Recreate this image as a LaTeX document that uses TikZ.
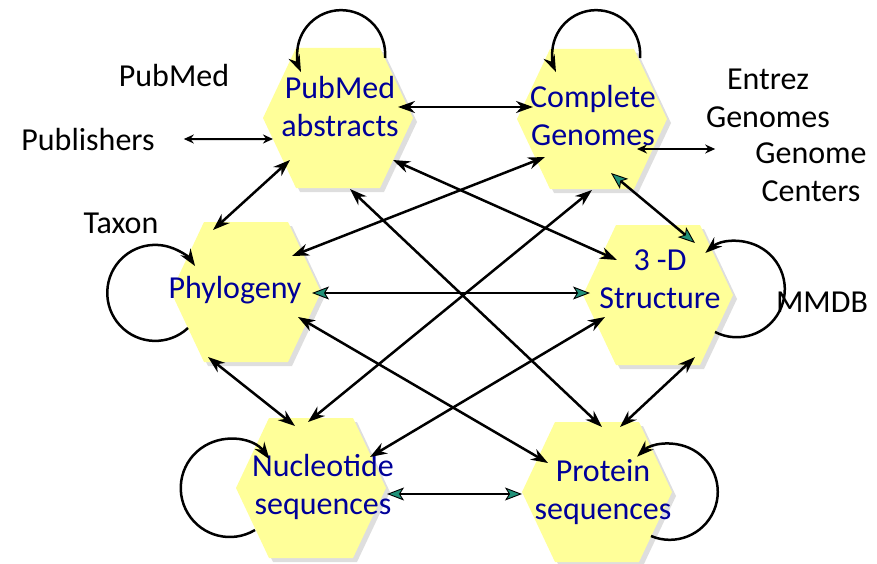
\documentclass[tikz,border=0pt]{standalone}
\usepackage{fontspec}
\setmainfont{Carlito}
\usepackage{tikz}
\usetikzlibrary{arrows.meta,calc}
\definecolor{hexyellow}{RGB}{255,255,153}
\definecolor{hexshade}{RGB}{222,222,222}
\definecolor{hexblue}{RGB}{0,0,153}
\definecolor{tipteal}{RGB}{32,145,120}

\begin{document}
\begin{tikzpicture}[x=1pt, y=1pt,
		font=\fontsize{32}{38}\selectfont,
		hexa/.style={minimum width=160, minimum height=150, inner sep=0pt,
			path picture={
				\fill[hexshade, shift={(path picture bounding box.center)}]
				(-38,-74) -- (46,-74) -- (79,-4) -- (46,66) -- (-38,66) -- (-71,-4) -- cycle;
				\fill[hexyellow, shift={(path picture bounding box.center)}]
				(-42,-70) -- (42,-70) -- (75,0) -- (42,70) -- (-42,70) -- (-75,0) -- cycle;
			}},
		hexlabel/.style={text=hexblue, align=center, inner sep=0pt},
		lbl/.style={inner sep=0pt, anchor=base},
		link/.style={line width=2.5pt,
			{Stealth[length=17pt,width=12pt]}-{Stealth[length=17pt,width=12pt]}},
		tlink/.style={line width=2.5pt,
			{Stealth[length=17pt,width=13pt,inset=4pt,fill=tipteal,line width=0.9pt]}-{Stealth[length=17pt,width=13pt,inset=4pt,fill=tipteal,line width=0.9pt]}},
		feed/.style={line width=2pt,
			{Stealth[length=10pt,width=9pt]}-{Stealth[length=10pt,width=9pt]}},
		loopy/.style={line width=2.5pt, -{Stealth[length=17pt,width=12pt]}}]
	\useasboundingbox (0,0) rectangle (877,-564);

	% databases
	\node[hexa, label={[hexlabel,shift={(2,11)}]center:PubMed\\abstracts}] (pub) at (338,-118) {};
	\node[hexa, label={[hexlabel,shift={(1,3)}]center:Complete\\Genomes}] (gen) at (592,-119) {};
	\node[hexa, label={[hexlabel,shift={(-11,2)}]center:Phylogeny}] (phy) at (246,-292) {};
	\node[hexa, label={[hexlabel,shift={(2,16)}]center:3 -D\\Structure}] (str) at (658,-295) {};
	\node[hexa, label={[hexlabel,shift={(12,1)}]center:Nucleotide\\sequences}] (nuc) at (311,-488) {};
	\node[hexa, label={[hexlabel,shift={(6,0)}]center:Protein\\sequences}] (pro) at (597,-492) {};

	% sources
	\node[lbl] (pm) at (174,-87) {PubMed};
	\node[lbl] (publ) at (88,-150) {Publishers};
	\node[lbl, anchor=center, align=center] (ent) at (768,-98) {Entrez\\Genomes};
	\node[lbl, anchor=center, align=center] (cen) at (811,-172) {Genome\\Centers};
	\node[lbl] (tax) at (121,-233) {Taxon};
	\node[lbl] (mmdb) at (822,-312) {MMDB};

	% links
	\path[link]
	($(pub)+(60,11)$) edge ($(gen)+(-59,12)$)
	($(pub)+(-48,-42)$) edge ($(phy)+(-33,62)$)
	($(pub)+(55,-42)$) edge ($(str)+(-41,35)$)
	($(pub)+(12,-71)$) edge ($(pro)+(5,65)$)
	($(gen)+(-47,-38)$) edge ($(phy)+(46,36)$)
	($(gen)+(0,-71)$) edge ($(nuc)+(-3,66)$)
	($(phy)+(-38,-65)$) edge ($(nuc)+(-16,62)$)
	($(phy)+(52,-25)$) edge ($(pro)+(-49,29)$)
	($(str)+(-53,-22)$) edge ($(nuc)+(59,31)$)
	($(str)+(37,-62)$) edge ($(pro)+(23,65)$);
	\path[tlink]
	($(gen)+(19,-54)$) edge ($(str)+(37,52)$)
	($(phy)+(66,-1)$) edge ($(str)+(-68,2)$)
	($(nuc)+(76,-6)$) edge ($(pro)+(-75,-2)$);
	\path[feed]
	($(publ.east)+(29,0)$) edge ($(pub)+(-65,-21)$)
	($(gen)+(45,-30)$) edge ($(cen.west)+(-40,23)$);

	% self loops
	\draw[loopy] ($(pub)+(47,60)$) arc[start angle=-5, end angle=204, radius=44];
	\draw[loopy] ($(gen)+(48,61)$) arc[start angle=-5, end angle=204, radius=44];
	\draw[loopy] ($(phy)+(-58,-36)$) arc[start angle=-47, end angle=-326, radius=48];
	\draw[loopy] ($(str)+(57,-37)$) arc[start angle=-117, end angle=131, radius=48];
	\draw[loopy] ($(nuc)+(-56,-42)$) arc[start angle=-59, end angle=-324, radius=49];
	\draw[loopy] ($(pro)+(54,-44)$) arc[start angle=-113, end angle=133, radius=48];
\end{tikzpicture}
\end{document}
